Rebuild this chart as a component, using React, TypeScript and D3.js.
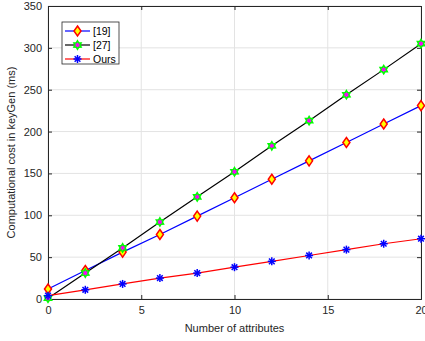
import React, { useEffect, useRef } from "react";
import * as d3 from "d3";

const attributes = [0, 2, 4, 6, 8, 10, 12, 14, 16, 18, 20];
const ref19 = [12, 34, 56, 77, 99, 121, 143, 165, 187, 209, 231];
const ref27 = [1, 31, 61, 92, 122, 152, 183, 213, 244, 274, 305];
const ours = [4, 11, 18, 25, 31, 38, 45, 52, 59, 66, 72];
const xTicks = [0, 5, 10, 15, 20];
const yTicks = [0, 50, 100, 150, 200, 250, 300, 350];
const legendLabels = ["[19]", "[27]", "Ours"];

const W = 425;
const H = 341;
const margin = { top: 6, right: 4, bottom: 42, left: 48 };
const font = "'Liberation Sans', Arial, sans-serif";
const axisColor = "#262626";

function App() {
  const svgRef = useRef<SVGSVGElement>(null);

  useEffect(() => {
    const svg = d3.select(svgRef.current);
    svg.selectAll("*").remove();
    const iw = W - margin.left - margin.right;
    const ih = H - margin.top - margin.bottom;

    const x = d3.scaleLinear().domain([0, 20]).range([margin.left, margin.left + iw]);
    const y = d3.scaleLinear().domain([0, 350]).range([margin.top + ih, margin.top]);

    svg.append("rect").attr("x", 0).attr("y", 0).attr("width", W).attr("height", H).attr("fill", "#fff");

    // grid
    const grid = svg.append("g").attr("stroke", "#e3e3e3").attr("stroke-width", 1);
    xTicks.forEach((t) =>
      grid.append("line").attr("x1", x(t)).attr("x2", x(t)).attr("y1", y(0)).attr("y2", y(350))
    );
    yTicks.forEach((t) =>
      grid.append("line").attr("x1", x(0)).attr("x2", x(20)).attr("y1", y(t)).attr("y2", y(t))
    );

    // axes
    const xAxis = svg
      .append("g")
      .attr("transform", `translate(0,${y(0)})`)
      .call(d3.axisBottom(x).tickValues(xTicks).tickSize(-4).tickPadding(7).tickFormat(d3.format("d")));
    const yAxis = svg
      .append("g")
      .attr("transform", `translate(${x(0)},0)`)
      .call(d3.axisLeft(y).tickValues(yTicks).tickSize(-4).tickPadding(6).tickFormat(d3.format("d")));
    const xTop = svg
      .append("g")
      .attr("transform", `translate(0,${y(350)})`)
      .call(d3.axisTop(x).tickValues(xTicks).tickSize(-4).tickFormat(() => ""));
    const yRight = svg
      .append("g")
      .attr("transform", `translate(${x(20)},0)`)
      .call(d3.axisRight(y).tickValues(yTicks).tickSize(-4).tickFormat(() => ""));
    [xAxis, yAxis, xTop, yRight].forEach((g) => {
      g.selectAll("path").attr("stroke", axisColor).attr("stroke-width", 1);
      g.selectAll("line").attr("stroke", axisColor);
      g.selectAll("text").attr("fill", axisColor).attr("font-size", 11).attr("font-family", font);
    });

    const line = d3
      .line<number>()
      .x((_, i) => x(attributes[i]))
      .y((d) => y(d));

    const series = [
      { data: ref19, lineColor: "#0000ff", marker: "diamond" },
      { data: ref27, lineColor: "#000000", marker: "star" },
      { data: ours, lineColor: "#ff0000", marker: "asterisk" },
    ];

    const drawMarker = (g: any, kind: string, cx: number, cy: number) => {
      if (kind === "diamond") {
        g.append("path")
          .attr("d", `M${cx},${cy - 5}L${cx + 3.5},${cy}L${cx},${cy + 5}L${cx - 3.5},${cy}Z`)
          .attr("fill", "#ffff00")
          .attr("stroke", "#ff0000")
          .attr("stroke-width", 1.5);
      } else if (kind === "star") {
        const pts: string[] = [];
        for (let k = 0; k < 12; k++) {
          const r = k % 2 === 0 ? 4.2 : 2.5;
          const a = (Math.PI / 6) * k - Math.PI / 2;
          pts.push(`${cx + r * Math.cos(a)},${cy + r * Math.sin(a)}`);
        }
        g.append("polygon")
          .attr("points", pts.join(" "))
          .attr("fill", "#ff00ff")
          .attr("stroke", "#00ff00")
          .attr("stroke-width", 1.5);
      } else {
        const r = 4;
        [0, 45, 90, 135].forEach((deg) => {
          const a = (deg * Math.PI) / 180;
          g.append("line")
            .attr("x1", cx - r * Math.cos(a))
            .attr("y1", cy - r * Math.sin(a))
            .attr("x2", cx + r * Math.cos(a))
            .attr("y2", cy + r * Math.sin(a))
            .attr("stroke", "#0000ff")
            .attr("stroke-width", 1.5);
        });
      }
    };

    series.forEach((s) => {
      svg
        .append("path")
        .attr("d", line(s.data))
        .attr("fill", "none")
        .attr("stroke", s.lineColor)
        .attr("stroke-width", 1.2);
      const mg = svg.append("g");
      s.data.forEach((v, i) => drawMarker(mg, s.marker, x(attributes[i]), y(v)));
    });

    // axis labels
    svg
      .append("text")
      .attr("x", x(10))
      .attr("y", 332)
      .attr("text-anchor", "middle")
      .attr("font-size", 11)
      .attr("font-family", font)
      .attr("fill", axisColor)
      .text("Number of attributes");
    svg
      .append("text")
      .attr("transform", `translate(15,${y(175)}) rotate(-90)`)
      .attr("text-anchor", "middle")
      .attr("font-size", 11)
      .attr("font-family", font)
      .attr("fill", axisColor)
      .text("Computational cost in keyGen (ms)");

    // legend
    const lg = svg.append("g");
    lg.append("rect")
      .attr("x", 62)
      .attr("y", 22)
      .attr("width", 57)
      .attr("height", 42)
      .attr("fill", "#fff")
      .attr("stroke", axisColor)
      .attr("stroke-width", 0.8);
    series.forEach((s, i) => {
      const ly = 31 + i * 14;
      lg.append("line")
        .attr("x1", 65)
        .attr("x2", 90)
        .attr("y1", ly)
        .attr("y2", ly)
        .attr("stroke", s.lineColor)
        .attr("stroke-width", 1.2);
      drawMarker(lg, s.marker, 77.5, ly);
      lg.append("text")
        .attr("x", 93)
        .attr("y", ly + 4)
        .attr("font-size", 10.5)
        .attr("font-family", font)
        .attr("fill", "#000")
        .text(legendLabels[i]);
    });
  }, []);

  return (
    <div style={{ position: "absolute", left: 0, top: 0 }}>
      <svg ref={svgRef} width={W} height={H}></svg>
    </div>
  );
}

export default App;
